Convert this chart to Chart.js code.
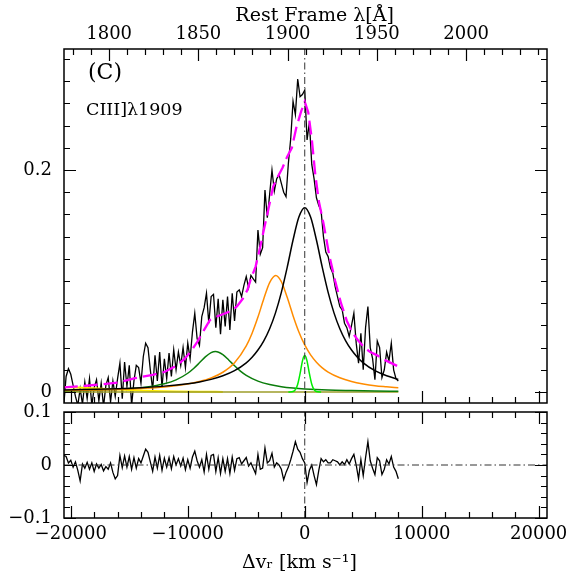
<!DOCTYPE html>
<html>
<head>
<meta charset="utf-8">
<script src="https://cdn.jsdelivr.net/npm/chart.js@4.4.1/dist/chart.umd.min.js"></script>
<style>
  html, body { margin: 0; padding: 0; background: #fff; }
  #wrap { position: relative; width: 581px; height: 581px; }
  #wrap canvas { position: absolute; left: 0; top: 0; }
</style>
</head>
<body>
<div id="wrap">
  <canvas id="mainChart" width="581" height="581"></canvas>
  <canvas id="residChart" width="581" height="581"></canvas>
</div>
<script>
// velocity grid of the observed spectrum (km/s)
const specStart = -20600;
const specStep = 200;

const specFlux = [
  -0.012, 0.014, 0.021, 0.016, 0.006, -0.004, -0.012, 0.003, -0.011, 0.009,
  -0.006, 0.012, -0.012, 0.004, 0.011, -0.008, 0.008, -0.013, 0.006, 0.013,
  -0.009, 0.010, -0.004, 0.012, 0.026, -0.006, 0.027, 0.005, 0.024, -0.012,
  0.010, 0.024, 0.022, 0.008, 0.032, 0.044, 0.040, 0.020, 0.002, 0.033,
  0.010, 0.036, 0.004, 0.030, 0.012, 0.035, 0.014, 0.038, 0.020, 0.036,
  0.024, 0.040, 0.022, 0.044, 0.030, 0.054, 0.071, 0.048, 0.042, 0.068,
  0.076, 0.089, 0.062, 0.086, 0.088, 0.058, 0.084, 0.052, 0.083, 0.059,
  0.086, 0.056, 0.089, 0.064, 0.090, 0.092, 0.086, 0.096, 0.104, 0.094,
  0.105, 0.102, 0.099, 0.146, 0.124, 0.130, 0.182, 0.157, 0.178, 0.200,
  0.181, 0.192, 0.196, 0.188, 0.180, 0.176, 0.206, 0.228, 0.262, 0.250,
  0.282, 0.266, 0.268, 0.272, 0.227, 0.243, 0.205, 0.192, 0.175, 0.168,
  0.163, 0.140, 0.126, 0.122, 0.112, 0.107, 0.095, 0.086, 0.077, 0.074,
  0.062, 0.058, 0.050, 0.060, 0.071, 0.044, 0.026, 0.053, 0.020, 0.058,
  0.077, 0.040, 0.030, 0.011, 0.046, 0.040, 0.013, 0.020, 0.036, 0.028,
  0.044, 0.020, 0.012, 0.010
];

// residuals (data - fit)
const residFlux = [
  0.018, 0.016, 0.004, 0.009, -0.004, 0.006, -0.010, -0.030, 0.002, -0.006,
  0.005, -0.008, 0.004, -0.012, 0.002, -0.006, 0.001, -0.011, -0.003, -0.008,
  0.004, -0.014, -0.026, -0.020, 0.018, -0.005, 0.017, -0.004, 0.016, -0.008,
  0.014, -0.006, 0.012, 0.004, 0.017, 0.030, 0.024, 0.006, -0.012, 0.015,
  -0.006, 0.018, -0.010, 0.013, -0.004, 0.014, -0.007, 0.016, 0.000, 0.012,
  -0.002, 0.013, -0.009, 0.010, -0.006, 0.015, 0.026, 0.008, -0.004, 0.010,
  -0.013, 0.020, -0.008, 0.018, 0.020, -0.012, 0.014, -0.016, 0.012, -0.012,
  0.012, -0.016, 0.015, -0.010, 0.012, 0.014, 0.002, 0.008, 0.014, -0.002,
  0.004, -0.006, -0.016, 0.020, -0.008, -0.006, 0.032, 0.004, 0.008, 0.022,
  -0.004, 0.004, 0.000, -0.008, -0.028, -0.014, -0.004, 0.010, 0.026, 0.044,
  0.030, 0.024, 0.012, 0.004, -0.033, -0.010, 0.000, -0.020, -0.037, -0.010,
  0.012, 0.006, 0.010, 0.004, 0.004, 0.010, 0.008, 0.006, 0.000, 0.006,
  0.001, 0.010, 0.002, 0.012, 0.020, 0.000, -0.026, 0.010, -0.020, 0.014,
  0.044, 0.008, -0.006, -0.018, 0.014, 0.008, -0.018, -0.008, 0.010, 0.002,
  0.016, -0.004, -0.012, -0.026
];

// total fit (magenta dashed)
const fitVel = [-20600, -19000, -17500, -16000, -14500, -13000, -12000, -11000, -10300, -9700,
  -9200, -8600, -8100, -7500, -6900, -6400, -5800, -5300, -4900, -4600,
  -4200, -3800, -3500, -3100, -2700, -2300, -1900, -1500, -1100, -700,
  -300, 0, 300, 600, 900, 1200, 1600, 2100, 2600, 3100,
  3600, 4100, 4600, 5100, 5600, 6200, 6800, 7400, 8000];
const fitFlux = [0.0042, 0.0053, 0.0068, 0.0085, 0.0125, 0.0155, 0.018, 0.0235, 0.0295, 0.037,
  0.045, 0.056, 0.0649, 0.068, 0.0705, 0.0725, 0.077, 0.084, 0.092, 0.102,
  0.113, 0.131, 0.146, 0.165, 0.185, 0.194, 0.202, 0.212, 0.220, 0.239,
  0.253, 0.2615, 0.252, 0.228, 0.196, 0.172, 0.152, 0.123, 0.100, 0.080,
  0.064, 0.053, 0.046, 0.040, 0.036, 0.033, 0.029, 0.026, 0.023];

// broad component (black)
const broadVel = [-20600, -18000, -16000, -14000, -12000, -10000, -9000, -8000, -7000, -6000,
  -5000, -4500, -4000, -3500, -3000, -2500, -2000, -1500, -1000, -500,
  0, 500, 1000, 1500, 2000, 2500, 3000, 3500, 4000, 4500, 5000, 6000, 7000, 8000];
const broadFlux = [0.0018, 0.0024, 0.0030, 0.0039, 0.0053, 0.0075, 0.0091, 0.0114, 0.0146, 0.0192,
  0.0263, 0.0313, 0.0378, 0.0461, 0.0570, 0.0713, 0.0898, 0.1123, 0.1369, 0.1576,
  0.166, 0.1576, 0.1369, 0.1123, 0.0898, 0.0713, 0.0570, 0.0461, 0.0378, 0.0313, 0.0263, 0.0192, 0.0146, 0.0114];

// blueshifted component (orange)
const blueVel = [-20600, -18000, -16000, -14000, -12000, -10000, -9000, -8000, -7000, -6000,
  -5000, -4500, -4000, -3500, -3000, -2480, -2000, -1500, -1000, -500,
  0, 500, 1000, 1500, 2000, 3000, 4000, 5000, 6000, 7000, 8000];
const blueFlux = [0.0013, 0.0018, 0.0023, 0.0032, 0.0046, 0.0072, 0.0094, 0.0126, 0.0178, 0.0264,
  0.0416, 0.0530, 0.0675, 0.0840, 0.0986, 0.105, 0.0995, 0.0853, 0.0688, 0.0541,
  0.0424, 0.0335, 0.0269, 0.0218, 0.0180, 0.0128, 0.0095, 0.0073, 0.0057, 0.0047, 0.0038];

// blend on the blue side (dark green)
const blendVel = [-20600, -18000, -16000, -14000, -13000, -12000, -11000, -10000, -9500, -9000,
  -8500, -8000, -7630, -7000, -6500, -6000, -5500, -5000, -4000, -3000,
  -2000, -1000, 0, 2000, 4000, 6000, 8000];
const blendFlux = [0.0010, 0.0016, 0.0024, 0.0039, 0.0053, 0.0074, 0.0109, 0.0169, 0.0212, 0.0263,
  0.0316, 0.0355, 0.0365, 0.0337, 0.0289, 0.0236, 0.0188, 0.0150, 0.0098, 0.0067,
  0.0048, 0.0036, 0.0028, 0.0018, 0.0013, 0.0009, 0.0007];

// narrow component (light green)
const narrowVel = [-1400, -1000, -800, -600, -400, -300, -200, -100, 0, 100, 200, 300, 400, 600, 800, 1000, 1400];
const narrowFlux = [0, 0.0004, 0.0021, 0.0070, 0.0165, 0.0224, 0.0278, 0.0316, 0.033, 0.0316, 0.0278, 0.0224, 0.0165, 0.0070, 0.0021, 0.0004, 0];

// faint wing (yellow) and zero level (olive)
const wingVel = [-20600, -19000, -17000, -15000, -13000, -11000, -9000, -7000];
const wingFlux = [0.0045, 0.0038, 0.0028, 0.0018, 0.0010, 0.0005, 0.0002, 0.0001];
const zeroVel = [-20600, 8000];
const zeroFlux = [0, 0];

// axes
const velMin = -20580, velMax = 20710;
const lamMin = 1774.7, lamMax = 2045.3;
const fluxMin = -0.0099, fluxMax = 0.309;
const residMin = -0.1, residMax = 0.1;
const velTicks = [-20000, -10000, 0, 10000, 20000];
const lamTicks = [1800, 1850, 1900, 1950, 2000];
const fluxTicks = [0, 0.2];
const residTicks = [-0.1, 0, 0.1];

const panelTag = '(C)';
const lineName = 'CIII]λ1909';

const serif = "'DejaVu Serif', 'Liberation Serif', serif";
const tickFont = { family: serif, size: 18 };
const titleFont = { family: serif, size: 19 };
Chart.defaults.font.family = serif;
Chart.defaults.color = '#000';

const specVel = specFlux.map((_, i) => specStart + i * specStep);
const pts = (xs, ys) => xs.map((x, i) => ({ x: x, y: ys[i] }));
const minus = s => s.replace('-', '\u2212');

function curve(data, color, width, order, extra) {
  return Object.assign({
    data: data,
    borderColor: color,
    borderWidth: width,
    pointRadius: 0,
    fill: false,
    tension: 0,
    clip: 0,
    order: order,
    xAxisID: 'x',
    yAxisID: 'y'
  }, extra || {});
}

// frame and inward tick marks on every side
const framePlugin = {
  id: 'frame',
  afterDatasetsDraw(chart, args, opts) {
    const { ctx, chartArea: a } = chart;
    ctx.save();
    ctx.strokeStyle = '#000';
    ctx.lineWidth = 1.2;
    ctx.beginPath();
    opts.marks.forEach(m => {
      const s = chart.scales[m.scale];
      const n0 = Math.ceil(s.min / m.step - 1e-6);
      const n1 = Math.floor(s.max / m.step + 1e-6);
      for (let n = n0; n <= n1; n++) {
        const len = n % m.every === 0 ? 12 : 6;
        const p = Math.round(s.getPixelForValue(n * m.step)) + 0.5;
        m.sides.forEach(side => {
          if (side === 'top') { ctx.moveTo(p, a.top); ctx.lineTo(p, a.top + len); }
          if (side === 'bottom') { ctx.moveTo(p, a.bottom); ctx.lineTo(p, a.bottom - len); }
          if (side === 'left') { ctx.moveTo(a.left, p); ctx.lineTo(a.left + len, p); }
          if (side === 'right') { ctx.moveTo(a.right, p); ctx.lineTo(a.right - len, p); }
        });
      }
    });
    ctx.stroke();
    ctx.lineWidth = 1.5;
    ctx.strokeRect(a.left, a.top, a.right - a.left, a.bottom - a.top);
    ctx.restore();
  }
};

const labelPlugin = {
  id: 'panelLabels',
  afterDraw(chart) {
    const { ctx, chartArea: a } = chart;
    ctx.save();
    ctx.fillStyle = '#000';
    ctx.textBaseline = 'middle';
    ctx.font = '22px ' + serif;
    ctx.fillText(panelTag, a.left + 24, a.top + 24);
    ctx.font = '17.5px ' + serif;
    ctx.fillText(lineName, a.left + 22, a.top + 61);
    ctx.restore();
  }
};

const dashDot = [7, 3, 1.5, 3];

new Chart(document.getElementById('mainChart'), {
  type: 'line',
  data: {
    datasets: [
      curve(pts(specVel, specFlux), '#000', 1.3, 10),
      curve(pts(wingVel, wingFlux), '#ffee00', 2, 9, { cubicInterpolationMode: 'monotone' }),
      curve(pts(zeroVel, zeroFlux), '#9c9c2a', 1.6, 8),
      curve(pts(blendVel, blendFlux), '#0b7d0b', 1.5, 7, { cubicInterpolationMode: 'monotone' }),
      curve(pts(blueVel, blueFlux), '#ff8c00', 1.5, 6, { cubicInterpolationMode: 'monotone' }),
      curve(pts(broadVel, broadFlux), '#000', 1.5, 5, { cubicInterpolationMode: 'monotone' }),
      curve(pts(narrowVel, narrowFlux), '#00ee00', 1.5, 4, { cubicInterpolationMode: 'monotone' }),
      curve(pts(fitVel, fitFlux), '#ff00ff', 2.3, 3, { borderDash: [14, 6] }),
      curve([{ x: 0, y: fluxMin }, { x: 0, y: fluxMax }], '#333', 1, 2, { borderDash: dashDot })
    ]
  },
  options: {
    responsive: false,
    animation: false,
    events: [],
    layout: { padding: { top: 0, right: 34, bottom: 178, left: 0 } },
    plugins: {
      legend: { display: false },
      tooltip: { enabled: false },
      frame: {
        marks: [
          { scale: 'x', step: 2000, every: 5, sides: ['bottom'] },
          { scale: 'xTop', step: 10, every: 5, sides: ['top'] },
          { scale: 'y', step: 0.02, every: 10, sides: ['left', 'right'] }
        ]
      }
    },
    scales: {
      x: { type: 'linear', min: velMin, max: velMax, display: false },
      xTop: {
        type: 'linear', position: 'top', min: lamMin, max: lamMax,
        grid: { display: false, drawTicks: false },
        border: { display: false },
        ticks: { font: tickFont, padding: 4, autoSkip: false, maxRotation: 0, callback: v => String(v) },
        afterBuildTicks: s => { s.ticks = lamTicks.map(v => ({ value: v })); },
        afterFit: s => { s.height = 49; },
        title: { display: true, text: '   Rest Frame λ[Å]', font: titleFont, padding: { top: 5, bottom: 0 } }
      },
      y: {
        type: 'linear', min: fluxMin, max: fluxMax,
        grid: { display: false, drawTicks: false },
        border: { display: false },
        ticks: { font: tickFont, padding: 12, autoSkip: false, callback: v => (v === 0 ? '0' : v.toFixed(1)) },
        afterBuildTicks: s => { s.ticks = fluxTicks.map(v => ({ value: v })); },
        afterFit: s => { s.width = 64; }
      }
    }
  },
  plugins: [framePlugin, labelPlugin]
});

new Chart(document.getElementById('residChart'), {
  type: 'line',
  data: {
    datasets: [
      curve(pts(specVel, residFlux), '#000', 1.3, 5),
      curve([{ x: velMin, y: 0 }, { x: velMax, y: 0 }], '#333', 1, 3, { borderDash: dashDot }),
      curve([{ x: 0, y: residMin }, { x: 0, y: residMax }], '#333', 1, 2, { borderDash: dashDot })
    ]
  },
  options: {
    responsive: false,
    animation: false,
    events: [],
    layout: { padding: { top: 412, right: 34, bottom: 0, left: 0 } },
    plugins: {
      legend: { display: false },
      tooltip: { enabled: false },
      frame: {
        marks: [
          { scale: 'x', step: 2000, every: 5, sides: ['top', 'bottom'] },
          { scale: 'y', step: 0.02, every: 5, sides: ['left', 'right'] }
        ]
      }
    },
    scales: {
      x: {
        type: 'linear', position: 'bottom', min: velMin, max: velMax,
        grid: { display: false, drawTicks: false },
        border: { display: false },
        ticks: { font: tickFont, padding: 6, autoSkip: false, maxRotation: 0, callback: v => minus(String(v)) },
        afterBuildTicks: s => { s.ticks = velTicks.map(v => ({ value: v })); },
        afterFit: s => { s.height = 63; },
        title: { display: true, text: 'Δvᵣ [km s⁻¹]  ', font: titleFont, padding: { top: 0, bottom: 7 } }
      },
      y: {
        type: 'linear', min: residMin, max: residMax,
        grid: { display: false, drawTicks: false },
        border: { display: false },
        ticks: { font: tickFont, padding: 12, autoSkip: false, callback: v => minus(v === 0 ? '0' : v.toFixed(1)) },
        afterBuildTicks: s => { s.ticks = residTicks.map(v => ({ value: v })); },
        afterFit: s => { s.width = 64; }
      }
    }
  },
  plugins: [framePlugin]
});
</script>
</body>
</html>
